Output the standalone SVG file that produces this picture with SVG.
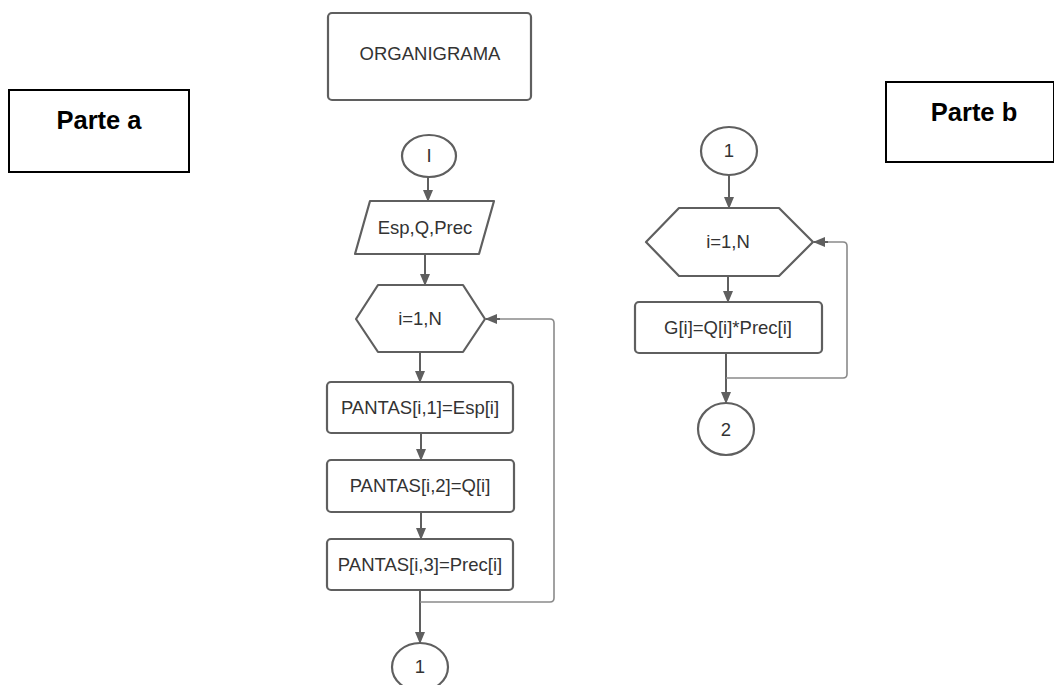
<svg xmlns="http://www.w3.org/2000/svg" width="1054" height="685" viewBox="0 0 1054 685">
<defs>
<marker id="ah" viewBox="0 0 12 12" refX="11" refY="6" markerWidth="12" markerHeight="12" markerUnits="userSpaceOnUse" orient="auto">
<path d="M0,1 L12,6 L0,11 Z" fill="#5f5f5f"/>
</marker>
</defs>
<style>
.sh{fill:#fff;stroke:#5f5f5f;stroke-width:2.2;stroke-linejoin:round}
.t{font-family:"Liberation Sans",Arial,sans-serif;font-size:18.5px;fill:#333;text-anchor:middle}
.lab{fill:#fff;stroke:#000;stroke-width:2}
.lt{font-family:"Liberation Sans",Arial,sans-serif;font-size:25.5px;font-weight:bold;fill:#000;text-anchor:middle}
.c{fill:none;stroke:#5f5f5f;stroke-width:2}
.lp{fill:none;stroke:#8a8a8a;stroke-width:1.6}
</style>
<rect width="1054" height="685" fill="#fff"/>
<g id="parte-a"><rect class="lab" x="9" y="90" width="180" height="82"/><text class="lt" x="99" y="129">Parte a</text></g>
<g id="parte-b"><rect class="lab" x="886" y="82" width="168" height="80"/><text class="lt" x="974" y="121">Parte b</text></g>
<g id="organigrama"><rect class="sh" x="328" y="13" width="203" height="87" rx="4"/><text class="t" x="430" y="60" font-size="19.5px">ORGANIGRAMA</text></g>
<g id="inicio"><ellipse class="sh" cx="429" cy="156" rx="27" ry="21"/><text class="t" x="429" y="162">I</text></g>
<g id="entrada"><path class="sh" d="M370,201 L494,201 L479,254 L355,254 Z"/><text class="t" x="425" y="234">Esp,Q,Prec</text></g>
<g id="bucle-a"><path class="sh" d="M378,285 L463,285 L485,319 L463,352 L378,352 L356,319 Z"/><text class="t" x="420" y="325">i=1,N</text></g>
<g id="p1"><rect class="sh" x="327" y="382" width="186" height="51" rx="4"/><text class="t" x="420" y="414">PANTAS[i,1]=Esp[i]</text></g>
<g id="p2"><rect class="sh" x="327" y="460" width="187" height="52" rx="4"/><text class="t" x="420" y="492">PANTAS[i,2]=Q[i]</text></g>
<g id="p3"><rect class="sh" x="327" y="539" width="186" height="51" rx="4"/><text class="t" x="420" y="571">PANTAS[i,3]=Prec[i]</text></g>
<g id="con-a"><ellipse class="sh" cx="420" cy="667" rx="28" ry="24"/><text class="t" x="420" y="673">1</text></g>
<g id="con-b1"><ellipse class="sh" cx="729" cy="151" rx="28" ry="24"/><text class="t" x="729" y="157">1</text></g>
<g id="bucle-b"><path class="sh" d="M679,208 L779,208 L813,242 L779,276 L679,276 L646,242 Z"/><text class="t" x="728" y="248">i=1,N</text></g>
<g id="g"><rect class="sh" x="635" y="302" width="187" height="51" rx="4"/><text class="t" x="728" y="334">G[i]=Q[i]*Prec[i]</text></g>
<g id="con-b2"><ellipse class="sh" cx="726" cy="429" rx="28" ry="26"/><text class="t" x="726" y="436">2</text></g>
<g id="connectors">
<path class="c" d="M428,177 L428,201" marker-end="url(#ah)"/>
<path class="c" d="M425,254 L425,285" marker-end="url(#ah)"/>
<path class="c" d="M420,352 L420,382" marker-end="url(#ah)"/>
<path class="c" d="M421,433 L421,460" marker-end="url(#ah)"/>
<path class="c" d="M421,512 L421,539" marker-end="url(#ah)"/>
<path class="c" d="M420,590 L420,643" marker-end="url(#ah)"/>
<path class="lp" d="M420,602 L550,602 Q554,602 554,598 L554,323 Q554,319 550,319 L497,319"/>
<path class="c" d="M500,319 L486,319" marker-end="url(#ah)"/>
<path class="c" d="M729,175 L729,208" marker-end="url(#ah)"/>
<path class="c" d="M728,276 L728,302" marker-end="url(#ah)"/>
<path class="c" d="M726,353 L726,403" marker-end="url(#ah)"/>
<path class="lp" d="M726,378 L843,378 Q847,378 847,374 L847,246 Q847,242 843,242 L825,242"/>
<path class="c" d="M828,242 L814,242" marker-end="url(#ah)"/>
</g>
</svg>
